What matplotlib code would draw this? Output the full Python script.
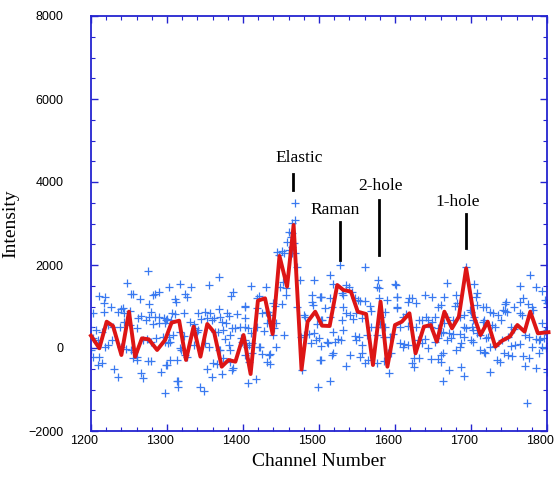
import matplotlib
matplotlib.use("Agg")
import matplotlib.pyplot as plt
import matplotlib.transforms as mtransforms
from matplotlib.ticker import MultipleLocator
import numpy as np

# ---- averaged (red) curve ----
avg_x = [1200, 1211, 1220.6, 1229, 1240, 1250, 1258, 1267, 1276, 1287, 1297.5, 1306, 1316, 1325,
         1335, 1344, 1353, 1362, 1372, 1381, 1390, 1400.7, 1410, 1419.6, 1429, 1439, 1448, 1458,
         1466.6, 1477, 1485, 1495, 1504, 1514, 1524, 1532, 1542, 1551, 1562, 1571, 1581, 1590,
         1600, 1609, 1619, 1627, 1638, 1647, 1655, 1665, 1675, 1684, 1693.6, 1704, 1712.5, 1722,
         1732, 1741, 1751, 1761, 1770.5, 1778, 1788, 1796, 1802]
avg_y = [296, -7, 634, 530, -169, 875, -209, 233, 209, -48, 193, 610, 658, -289,
         514, -209, 578, 378, -450, -289, -330, 313, -627, 1140, 1197, 337, 2217, 1478,
         2964, -520, 634, 875, 538, 530, 1518, 1398, 1358, 875, 819, -410, 1116, -450,
         554, 634, 836, -128, 514, 554, 152, 875, 474, 755, 1920, 755, 313, 634,
         32, 177, 273, 554, 394, 875, 354, 370, 380]

# ---- raw (blue) data points ----
raw_x = [1275, 1248, 1210, 1219, 1252, 1255, 1265, 1290, 1284, 1282, 1217, 1203, 1226, 1217, 1235,
         1239, 1242, 1244, 1251, 1276, 1279, 1266, 1276, 1284, 1290, 1296, 1299, 1198, 1207, 1214,
         1222, 1229, 1238, 1243, 1251, 1260, 1262, 1273, 1282, 1290, 1297, 1203, 1209, 1227, 1218,
         1222, 1240, 1246, 1253, 1257, 1260, 1268, 1274, 1279, 1286, 1295, 1297, 1203, 1211, 1214,
         1209, 1255, 1260, 1275, 1279, 1230, 1236, 1266, 1268, 1292, 1299, 1298, 1200, 1313, 1314,
         1343, 1349,
         1369, 1317, 1332, 1355, 1303, 1310, 1312, 1324, 1326, 1387, 1384, 1402, 1307, 1311, 1322,
         1341, 1350, 1357, 1368, 1370, 1379, 1381, 1392, 1300, 1305, 1330, 1335, 1345, 1352, 1359,
         1362, 1373, 1377, 1385, 1390, 1396, 1403, 1308, 1302, 1317, 1322, 1337, 1339, 1341, 1363,
         1367, 1374, 1376, 1383, 1304, 1301, 1317, 1319, 1335, 1350, 1355, 1368, 1370, 1381, 1383,
         1398, 1403, 1405, 1324, 1326, 1304, 1313, 1300, 1361, 1366, 1374, 1383, 1387, 1385, 1352,
         1359, 1372, 1315,
         1468, 1465, 1469, 1460, 1465, 1463, 1458, 1467, 1465, 1460, 1469, 1465, 1445, 1451, 1454,
         1447, 1471, 1475, 1493, 1452, 1449, 1457, 1456, 1411, 1430, 1421, 1419, 1491, 1503, 1403,
         1419, 1439, 1442, 1451, 1425, 1430, 1433, 1436, 1491, 1492, 1471, 1403, 1480, 1482, 1504,
         1498, 1407, 1410, 1419, 1428, 1431, 1443, 1441, 1439, 1454, 1480, 1476, 1487, 1493, 1496,
         1489, 1500, 1399, 1403, 1408, 1412, 1421, 1423, 1443, 1425, 1434, 1436, 1432, 1436, 1403,
         1408, 1412, 1406, 1417, 1502, 1477, 1499,
         1528, 1560, 1514, 1519, 1530, 1532, 1536, 1539, 1543, 1578, 1576, 1579, 1600, 1503, 1501,
         1508, 1514, 1517, 1547, 1551, 1554, 1560, 1532, 1567, 1579, 1589, 1603, 1603, 1536, 1541,
         1549, 1545, 1556, 1569, 1587, 1582, 1514, 1503, 1530, 1580, 1576, 1587, 1519, 1532, 1547,
         1552, 1563, 1569, 1576, 1585, 1593, 1598, 1510, 1512, 1521, 1525, 1529, 1549, 1556, 1503,
         1519, 1517, 1541, 1556, 1554, 1591, 1595, 1501, 1560, 1565, 1576, 1585, 1536, 1592, 1514,
         1669, 1704, 1601, 1603, 1639, 1649, 1665, 1619, 1622, 1617, 1628, 1680, 1682, 1679, 1603,
         1656, 1660, 1641, 1643, 1632, 1636, 1614, 1610, 1652, 1649, 1669, 1665, 1676, 1685, 1691,
         1700, 1704, 1606, 1617, 1628, 1647, 1656, 1660, 1663, 1671, 1676, 1685, 1691, 1693, 1702,
         1703, 1612, 1617, 1610, 1606, 1630, 1639, 1636, 1652, 1656, 1669, 1674, 1691, 1687, 1685,
         1680, 1700, 1625, 1632, 1643, 1660, 1663, 1660, 1647, 1656, 1623, 1625, 1671, 1687, 1691,
         1663, 1694,
         1778, 1706, 1764, 1785, 1793, 1708, 1769, 1765, 1775, 1800, 1746, 1745, 1756, 1708, 1716,
         1720, 1780, 1782, 1699, 1725, 1729, 1742, 1745, 1747, 1765, 1767, 1736, 1739, 1717, 1716,
         1701, 1728, 1732, 1752, 1756, 1793, 1800, 1798, 1708, 1712, 1723, 1720, 1741, 1749, 1771,
         1776, 1785, 1791, 1796, 1703, 1712, 1717, 1719, 1725, 1732, 1752, 1758, 1765, 1780, 1789,
         1793, 1743, 1749, 1754, 1769, 1789, 1799, 1734, 1738, 1776, 1771, 1725, 1786, 1800, 1774,
         1798, 1806, 1804]
raw_y = [1856, 1559, 1262, 1238, 1294, 1294, 1174, 1358, 1294, 1278, 1093, 836, 997, 876, 876,
         941, 957, 836, 893, 1061, 876, 772, 756, 756, 756, 716, 676, 515, 435, 395,
         555, 499, 499, 636, 555, 475, 716, 676, 579, 612, 596, 234, 194, 194, 33,
         74, 33, -31, -47, -87, -208, 194, 210, 154, 234, 258, 154, -208, -208, -368,
         -408, -248, -288, -312, -312, -513, -705, -609, -729, -569, -408, -1091, -47, -788, -933,
         -933, -1029,
         1704, 1543, 1463, 1519, 1463, 1174, 1117, 1302, 1238, 1358, 1262, 997, 836, 812, 836,
         852, 876, 852, 933, 756, 836, 772, 812, 692, 676, 636, 579, 692, 716, 676,
         716, 636, 596, 475, 475, 515, 515, 314, 274, 395, 290, 475, 395, 435, 395,
         395, 435, 210, 314, 154, 114, -7, -47, 74, 114, 33, -47, -47, 74, -47,
         234, 194, 33, -168, -208, -288, -288, -408, -352, -392, -248, -328, -489, -529, -513,
         -689, -625, -786,
         3487, 3021, 3085, 2788, 2764, 2684, 2563, 2523, 2443, 2363, 2298, 2298, 2323, 2347, 2282,
         2242, 1945, 1640, 1640, 1600, 1463, 1439, 1279, 1495, 1479, 1254, 1198, 1279, 1238, 1013,
         957, 1094, 1013, 1053, 853, 877, 877, 797, 1118, 1038, 982, 717, 797, 757, 677,
         580, 476, 355, 516, 419, 612, 596, 476, 315, 315, 315, 275, 339, 371, 195,
         114, 235, 155, 114, 74, 114, 34, 34, 18, -143, -167, -143, -327, -384, -167,
         -327, -127, -849, -745, -287, -528, -930,
         2001, 1961, 1760, 1544, 1319, 1279, 1520, 1463, 1359, 1640, 1463, 1439, 1544, 1238, 1222,
         957, 1198, 998, 1198, 1158, 1142, 1142, 982, 1013, 1198, 1158, 1222, 998, 853, 797,
         837, 692, 717, 901, 877, 757, 757, 676, 676, 580, 516, 516, 395, 436, 291,
         275, 315, 516, 315, 275, 275, 339, 155, 114, 155, 211, 195, 195, 74, 50,
         -127, -167, -167, -127, -207, -111, -127, -287, -368, -287, -352, -303, -432, -592, -785,
         1560, 1544, 1520, 1238, 1279, 1222, 1222, 1198, 1198, 1118, 1094, 1279, 1078, 1013, 957,
         998, 1038, 741, 676, 676, 676, 821, 757, 757, 628, 741, 596, 676, 741, 797,
         877, 757, 516, 532, 516, 516, 476, 355, 395, 355, 339, 339, 516, 476, 676,
         436, 98, 74, 34, 114, 195, 211, 114, 155, 235, 195, 235, 275, 114, 34,
         -47, 195, -247, -247, 5, -167, -127, -327, -271, -271, -368, -464, -528, -464, -673,
         -785, 1960,
         1760, 1222, 1495, 1463, 1382, 1334, 1198, 1117, 1061, 1093, 1117, 1061, 997, 1037, 997,
         997, 997, 917, 917, 877, 853, 917, 901, 877, 853, 796, 796, 676, 676, 636,
         499, 555, 515, 499, 451, 595, 435, 419, 371, 314, 274, 234, 194, 274, 314,
         258, 210, 210, 234, 154, -47, -87, -127, 33, 50, 50, 74, 98, 17, 194,
         17, -127, -168, -192, -192, -127, -7, -288, -328, -248, -432, -569, -489, -569, -1316,
         1157, 400, 120]

xticks = [1200, 1300, 1400, 1500, 1600, 1700, 1800]
yticks = [-2000, 0, 2000, 4000, 6000, 8000]

labels = ["Elastic", "Raman", "2-hole", "1-hole"]
label_x = [1474, 1521, 1581, 1682]
label_y = [4480, 3220, 3800, 3420]
mark_x = [1466, 1528, 1579.5, 1693]
mark_y0 = [3800, 2120, 2250, 2400]
mark_y1 = [4200, 3030, 3570, 3230]

frame_col = "#2424d0"

fig = plt.figure(figsize=(5.56, 4.83), dpi=100)
ax = fig.add_axes([91/556, 1 - 431/483, (547 - 91)/556, (431 - 16)/483])

ax.plot(raw_x, raw_y, linestyle="none", marker="+", markersize=5.5, markeredgewidth=0.9,
        color="#3a7af0", zorder=2)
ax.plot(avg_x, avg_y, color="#dd1515", linewidth=2.8, zorder=3, clip_on=False)

for t, tx, ty in zip(labels, label_x, label_y):
    ax.text(tx, ty, t, ha="center", va="baseline", fontsize=12.5,
            family="Liberation Serif", color="black")
for mx, y0, y1 in zip(mark_x, mark_y0, mark_y1):
    ax.plot([mx, mx], [y0, y1], color="black", linewidth=2.0, zorder=4)

ax.set_xlim(1200, 1800)
ax.set_ylim(-2000, 8000)
ax.set_xticks(xticks)
ax.set_yticks(yticks)
ax.xaxis.set_minor_locator(MultipleLocator(20))
ax.yaxis.set_minor_locator(MultipleLocator(500))
ax.tick_params(which="both", direction="in", top=True, right=True, color=frame_col,
               labelsize=9, labelfontfamily="Liberation Sans")
ax.tick_params(which="major", length=5, width=1.0)
ax.tick_params(which="minor", length=3, width=0.8)
ax.tick_params(axis="y", pad=20)
ax.tick_params(axis="x", pad=3)
for s in ax.spines.values():
    s.set_color(frame_col)
    s.set_linewidth(1.3)

offset = mtransforms.ScaledTranslation(-7/100, 0, fig.dpi_scale_trans)
for lab in ax.get_xticklabels():
    lab.set_transform(lab.get_transform() + offset)

ax.set_xlabel("Channel Number", fontsize=14, family="Liberation Serif", labelpad=4)
ax.set_ylabel("Intensity", fontsize=14, family="Liberation Serif", labelpad=6)

fig.savefig("out.png", dpi=100)
